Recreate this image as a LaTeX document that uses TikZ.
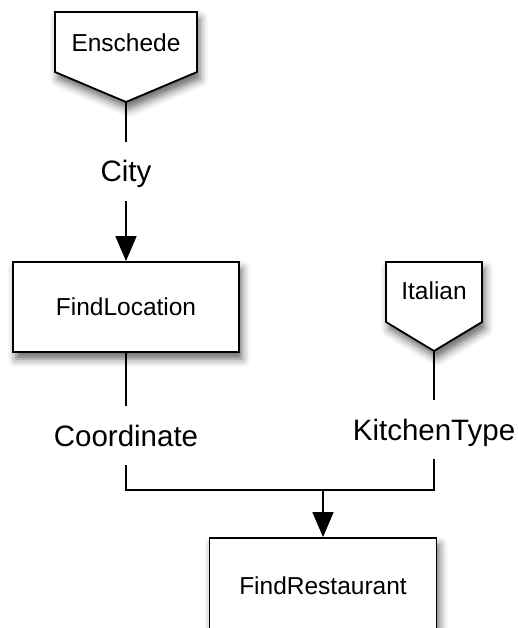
\documentclass[tikz,border=0pt]{standalone}
\usepackage{fontspec}
\setmainfont{Liberation Sans}
\usetikzlibrary{arrows.meta,shadows.blur}

\tikzset{
    shade/.style={blur shadow={shadow xshift=3pt, shadow yshift=-7pt, shadow blur radius=8pt, shadow opacity=60}},
    service/.style={draw, fill=white, line width=1.8pt, shade, minimum width=226pt, minimum height=90pt, font=\fontsize{24.5}{28}\selectfont},
    valshape/.style={draw, fill=white, line width=1.8pt, line join=miter, shade},
    valtext/.style={font=\fontsize{24.5}{28}\selectfont},
    label/.style={font=\fontsize{29.5}{32}\selectfont, text height=21pt, text depth=0pt, inner sep=0pt, outer sep=19pt},
    conn/.style={line width=1.7pt},
    arr/.style={line width=1.7pt, -{Triangle[width=21pt,length=25pt,fill=black]}}
}

\begin{document}
\begin{tikzpicture}[x=1pt, y=-1pt]
        \clip (0,0) rectangle (518,628);
        % input values
        \draw[valshape] (55,12) -- (197,12) -- (197,72) -- (126,102) coordinate (enstip) -- (55,72) -- cycle;
        \node[valtext] (ens) at (126,43) {Enschede};
        \draw[valshape] (386,262) -- (482,262) -- (482,322) -- (434,351) coordinate (itatip) -- (386,322) -- cycle;
        \node[valtext] (ita) at (434,291) {Italian};
        % services
        \node[service] (findloc) at (126,307) {FindLocation};
        \node[service, minimum width=227pt, minimum height=96pt] (findrest) at (323,586) {FindRestaurant};
        % types
        \node[label] (city) at (126,171.5) {City};
        \node[label] (coord) at (126,435.5) {Coordinate};
        \node[label] (kitchen) at (434,429.5) {KitchenType};
        \coordinate (merge) at (323,490);
        % connections
        \draw[conn] (enstip) -- (city.north);
        \draw[arr] (city.south) -- (findloc.north);
        \draw[conn] (findloc.south) -- (coord.north);
        \draw[conn] (itatip) -- (kitchen.north);
        \draw[conn] (coord.south) |- (merge) -| (kitchen.south);
        \draw[arr] (merge) -- (findrest.north);
    \end{tikzpicture}
\end{document}
